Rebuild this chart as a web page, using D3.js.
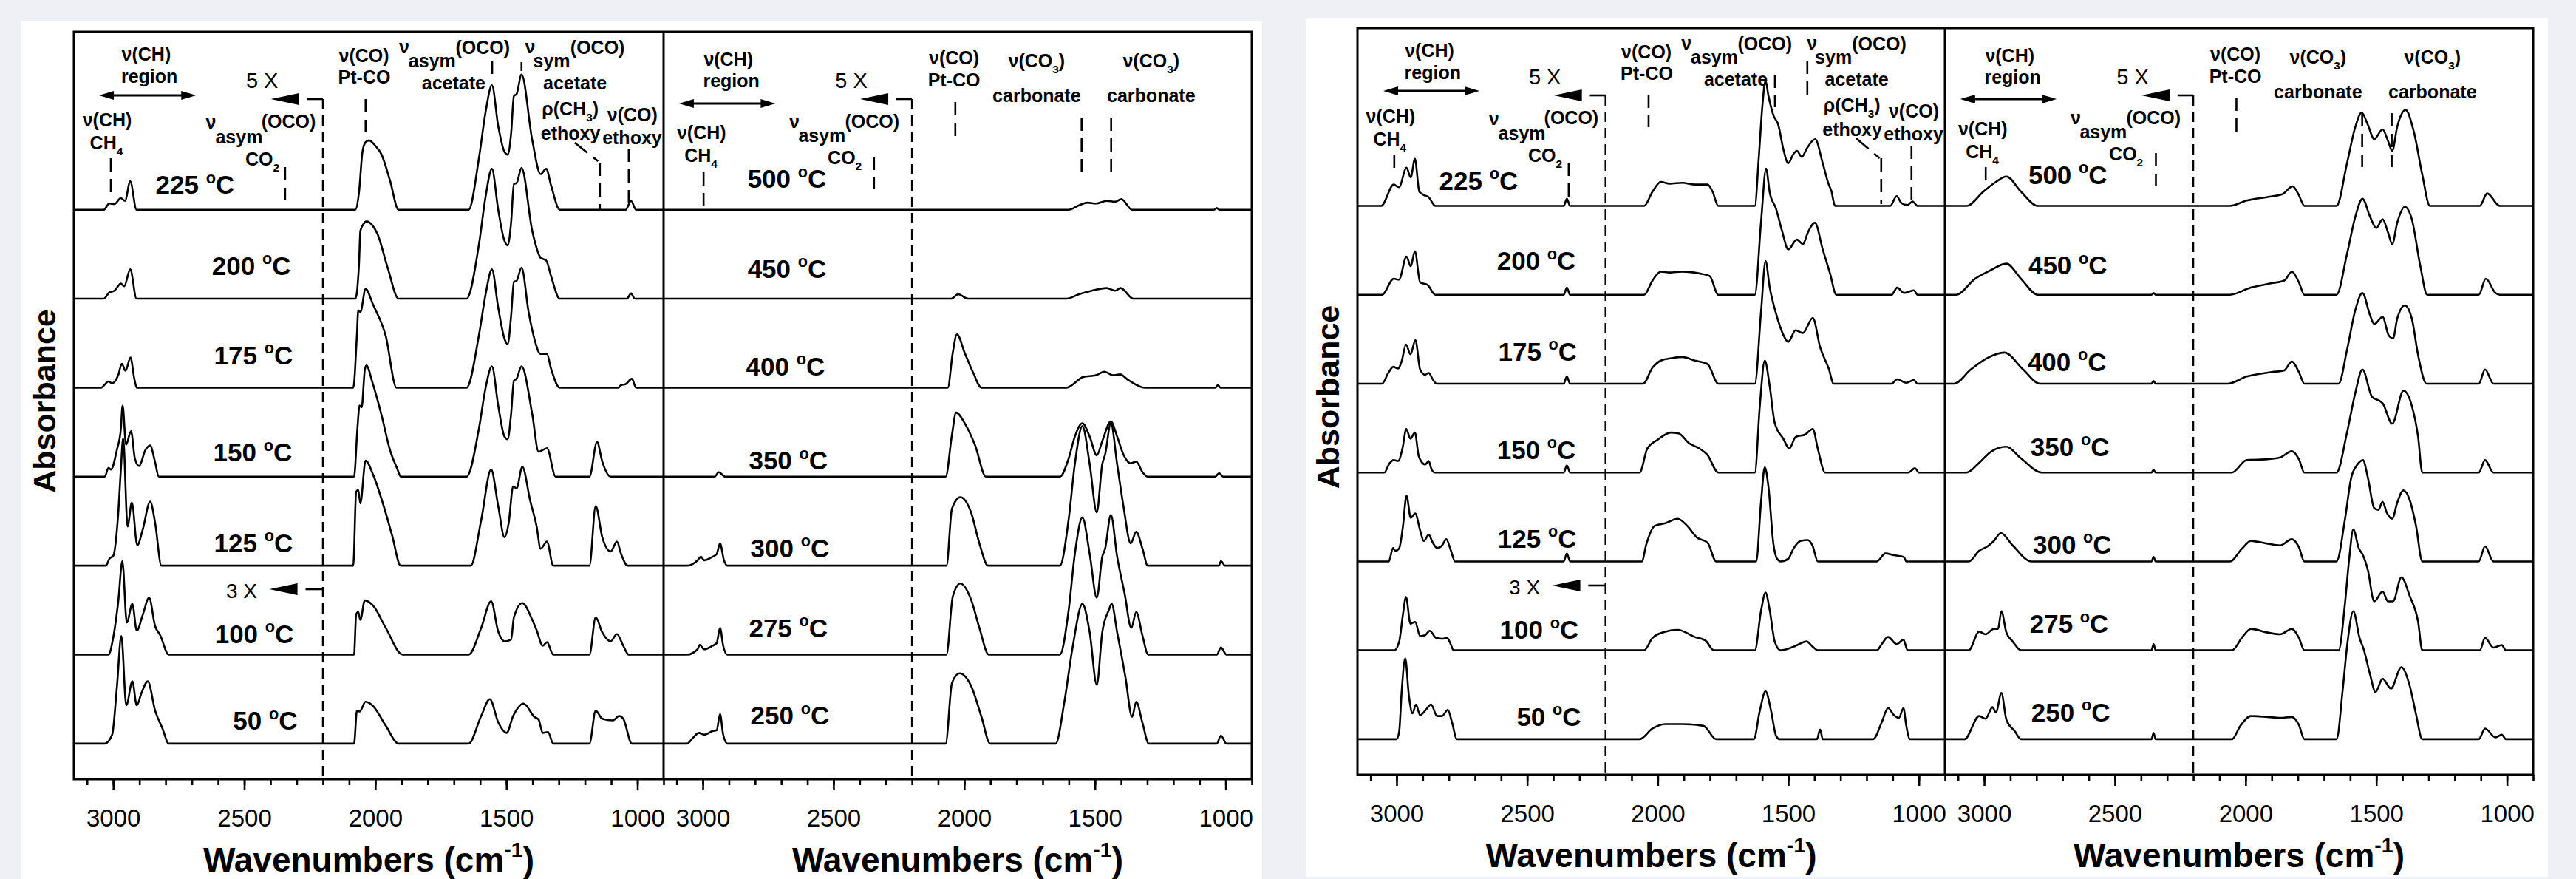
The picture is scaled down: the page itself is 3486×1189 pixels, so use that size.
<!DOCTYPE html>
<html>
<head>
<meta charset="utf-8">
<script src="https://d3js.org/d3.v7.min.js"></script>
<style>
  body { margin: 0; background: #eef0f5; }
  svg { display: block; }
  text { font-family: "Liberation Sans", Arial, sans-serif; fill: #000; }
</style>
</head>
<body>
<svg id="chart"></svg>
<script>
// ---- data -------------------------------------------------------------
var tempsLow = ['225', '200', '175', '150', '125', '100', '50'];
var tempsHigh = ['500', '450', '400', '350', '300', '275', '250'];
var majorTicks = [3000, 2500, 2000, 1500, 1000];
var minorTicks = d3.range(900, 3101, 100);

// spectra, [wavenumber, absorbance offset units]
// left figure, 50-225 C
var aLow225 = [[3150,0],[3036,0],[3015,0.07],[2995,0.065],[2971,0.13],[2955,0.1],[2935,0.32],[2911,0],[2076,0],[2062,0.2],[2049,0.65],[2037,0.76],[2024,0.78],[2000,0.72],[1976,0.62],[1944,0.33],[1911,0],[1644,0],[1604,0.59],[1579,1.1],[1555,1.4],[1531,0.94],[1507,0.65],[1495,0.62],[1482,0.85],[1471,1.28],[1461,1.3],[1442,1.52],[1401,0.78],[1369,0.4],[1348,0.46],[1329,0.27],[1296,0],[1045,0],[1024,0.1],[1005,0],[900,0]];
var aLow200 = [[3150,0],[3036,0],[3015,0.07],[2995,0.09],[2971,0.17],[2958,0.14],[2935,0.33],[2911,0],[2076,0],[2062,0.4],[2057,0.76],[2045,0.84],[2032,0.87],[2010,0.82],[1992,0.73],[1952,0.34],[1911,0],[1652,0],[1604,0.62],[1579,1.15],[1555,1.46],[1531,1.0],[1507,0.65],[1495,0.6],[1482,0.85],[1471,1.29],[1461,1.3],[1442,1.47],[1401,0.76],[1369,0.46],[1348,0.43],[1329,0.25],[1296,0],[1040,0],[1024,0.06],[1010,0],[900,0]];
var aLow175 = [[3150,0],[3047,0],[3018,0.07],[3004,0.05],[2981,0.14],[2967,0.27],[2953,0.19],[2934,0.34],[2920,0.11],[2910,0],[2084,0],[2070,0.6],[2065,0.87],[2057,0.85],[2037,1.11],[2008,0.93],[1960,0.58],[1919,0],[1652,0],[1604,0.6],[1579,1.05],[1555,1.33],[1531,0.9],[1507,0.55],[1495,0.49],[1482,0.8],[1471,1.19],[1461,1.2],[1442,1.35],[1415,0.85],[1393,0.55],[1370,0.38],[1345,0.38],[1330,0.22],[1296,0],[1072,0],[1062,0.03],[1045,0.04],[1021,0.1],[1005,0],[900,0]];
var aLow150 = [[3150,0],[3032,0],[3018,0.1],[3009,0.08],[2986,0.3],[2971,0.53],[2964,0.8],[2951,0.36],[2932,0.51],[2917,0.2],[2901,0.12],[2877,0.3],[2859,0.35],[2840,0.16],[2826,0],[2081,0],[2068,0.55],[2060,0.8],[2052,0.78],[2040,1.2],[2034,1.25],[2010,1.05],[1976,0.69],[1944,0.3],[1915,0.08],[1903,0],[1652,0],[1604,0.55],[1579,1.0],[1555,1.24],[1531,0.8],[1507,0.45],[1495,0.42],[1482,0.7],[1471,1.08],[1461,1.1],[1442,1.24],[1401,0.7],[1377,0.28],[1345,0.32],[1312,0],[1183,0],[1154,0.39],[1134,0.17],[1102,0],[900,0]];
var aLow125 = [[3150,0],[3028,0],[3014,0.08],[3000,0.11],[2981,0.58],[2971,1.07],[2962,1.43],[2945,0.44],[2929,0.71],[2908,0.23],[2887,0.41],[2859,0.72],[2840,0.48],[2816,0],[2084,0],[2073,0.83],[2065,0.85],[2057,0.7],[2037,1.18],[2008,1.02],[1968,0.67],[1935,0.33],[1903,0],[1636,0],[1596,0.51],[1558,1.08],[1531,0.67],[1507,0.32],[1491,0.48],[1474,0.89],[1461,0.87],[1439,1.11],[1409,0.73],[1385,0.45],[1369,0.19],[1345,0.27],[1321,0],[1183,0],[1159,0.67],[1134,0.32],[1102,0.16],[1078,0.27],[1062,0.13],[1037,0],[900,0]];
var aLow100 = [[3150,0],[3018,0],[3000,0.19],[2981,0.59],[2965,1.05],[2948,0.36],[2927,0.57],[2910,0.27],[2887,0.45],[2863,0.64],[2840,0.32],[2821,0.22],[2788,0],[2081,0],[2073,0.45],[2065,0.48],[2057,0.39],[2040,0.61],[2008,0.55],[1960,0.3],[1895,0],[1644,0],[1596,0.3],[1558,0.6],[1531,0.26],[1507,0.15],[1482,0.17],[1471,0.42],[1439,0.58],[1401,0.39],[1385,0.28],[1361,0.1],[1345,0.14],[1321,0],[1183,0],[1159,0.42],[1134,0.25],[1102,0.15],[1078,0.23],[1054,0.1],[1033,0],[900,0]];
var aLow50 = [[3150,0],[3032,0],[3004,0.1],[2986,0.63],[2969,1.21],[2950,0.43],[2927,0.7],[2910,0.43],[2892,0.57],[2868,0.7],[2840,0.37],[2812,0.17],[2788,0],[2081,0],[2070,0.37],[2060,0.36],[2037,0.47],[2008,0.42],[1960,0.2],[1911,0],[1644,0],[1596,0.31],[1563,0.5],[1531,0.24],[1499,0.12],[1474,0.31],[1434,0.45],[1393,0.3],[1377,0.27],[1361,0.12],[1341,0.13],[1321,0],[1183,0],[1159,0.37],[1134,0.28],[1094,0.26],[1070,0.31],[1054,0.28],[1021,0],[900,0]];

// left figure, 250-500 C
var aHigh500 = [[3150,0],[1601,0],[1561,0.05],[1528,0.08],[1496,0.07],[1455,0.1],[1423,0.09],[1399,0.12],[1358,0],[1045,0],[1034,0.02],[1025,0],[900,0]];
var aHigh450 = [[3150,0],[2050,0],[2023,0.05],[1985,0],[1609,0],[1561,0.05],[1512,0.09],[1455,0.12],[1423,0.09],[1402,0.12],[1353,0],[900,0]];
var aHigh400 = [[3150,0],[2063,0],[2044,0.39],[2028,0.6],[1998,0.39],[1966,0.17],[1934,0],[1609,0],[1545,0.12],[1496,0.14],[1464,0.18],[1431,0.14],[1404,0.15],[1374,0.09],[1309,0],[1040,0],[1029,0.03],[1020,0],[900,0]];
var aHigh350 = [[3150,0],[2955,0],[2939,0.05],[2914,0],[2071,0],[2047,0.47],[2031,0.72],[1998,0.6],[1958,0.35],[1917,0],[1634,0],[1601,0.2],[1577,0.45],[1548,0.6],[1520,0.45],[1493,0.24],[1472,0.4],[1439,0.62],[1415,0.45],[1391,0.25],[1363,0.15],[1342,0.17],[1318,0.05],[1298,0],[1040,0],[1025,0.04],[1010,0],[900,0]];
var aHigh300 = [[3150,0],[3060,0],[3020,0.06],[3007,0.1],[2995,0.06],[2963,0.1],[2947,0.13],[2934,0.25],[2919,0.06],[2906,0],[2068,0],[2047,0.64],[2015,0.77],[1974,0.6],[1942,0.25],[1909,0],[1634,0],[1601,0.51],[1577,1.14],[1548,1.57],[1520,1.14],[1493,0.6],[1472,1.14],[1461,1.25],[1439,1.6],[1415,1.14],[1391,0.67],[1363,0.25],[1342,0.38],[1318,0.19],[1298,0],[1026,0],[1018,0.05],[1002,0],[900,0]];
var aHigh275 = [[3150,0],[3060,0],[3020,0.06],[3012,0.11],[2995,0.06],[2963,0.1],[2947,0.13],[2934,0.3],[2922,0.1],[2906,0],[2068,0],[2044,0.65],[2015,0.8],[1974,0.62],[1942,0.3],[1906,0],[1634,0],[1601,0.49],[1577,1.13],[1548,1.54],[1520,1.13],[1493,0.64],[1472,1.1],[1461,1.19],[1439,1.57],[1415,1.1],[1386,0.68],[1361,0.3],[1342,0.48],[1318,0.21],[1296,0],[1034,0],[1018,0.08],[997,0],[900,0]];
var aHigh250 = [[3150,0],[3060,0],[3036,0.07],[3015,0.12],[2995,0.1],[2963,0.14],[2947,0.15],[2934,0.33],[2922,0.1],[2906,0],[2071,0],[2047,0.68],[2018,0.79],[1974,0.65],[1934,0.3],[1901,0],[1650,0],[1618,0.45],[1585,1.09],[1548,1.57],[1520,1.25],[1493,0.66],[1472,1.25],[1447,1.5],[1436,1.57],[1415,1.25],[1383,0.74],[1358,0.3],[1342,0.47],[1318,0.23],[1294,0],[1034,0],[1018,0.09],[997,0],[900,0]];

// right figure, 50-225 C
var bLow225 = [[3150,0],[3059,0],[3011,0.24],[2991,0.21],[2962,0.43],[2946,0.32],[2930,0.53],[2913,0.16],[2894,0.12],[2878,0.1],[2852,0],[2360,0],[2348,0.08],[2336,0],[2052,0],[2020,0.16],[1988,0.27],[1955,0.25],[1906,0.26],[1858,0.24],[1809,0.24],[1790,0.16],[1768,0],[1628,0],[1613,0.54],[1599,1.13],[1587,1.41],[1576,1.24],[1557,1.02],[1538,0.91],[1519,0.64],[1500,0.48],[1481,0.58],[1467,0.62],[1448,0.55],[1430,0.64],[1397,0.75],[1368,0.48],[1345,0.24],[1335,0.17],[1321,0],[1109,0],[1085,0.11],[1066,0.03],[1043,0.01],[1024,0.05],[1005,0],[900,0]];
var bLow200 = [[3150,0],[3056,0],[3011,0.18],[2991,0.17],[2962,0.43],[2946,0.32],[2930,0.49],[2910,0.14],[2881,0.11],[2852,0],[2360,0],[2348,0.08],[2336,0],[2052,0],[2020,0.16],[1988,0.26],[1955,0.25],[1906,0.26],[1841,0.24],[1801,0.21],[1768,0],[1628,0],[1604,0.83],[1585,1.42],[1571,1.15],[1547,0.97],[1524,0.72],[1500,0.51],[1467,0.62],[1444,0.57],[1425,0.7],[1398,0.81],[1368,0.51],[1340,0.24],[1316,0],[1104,0],[1083,0.08],[1057,0.02],[1019,0.05],[1005,0],[900,0]];
var bLow175 = [[3150,0],[3056,0],[3032,0.12],[3013,0.19],[2994,0.17],[2980,0.26],[2964,0.44],[2947,0.33],[2928,0.49],[2910,0.16],[2891,0.1],[2877,0.12],[2862,0.05],[2847,0],[2360,0],[2348,0.08],[2336,0],[2056,0],[2020,0.18],[1988,0.26],[1939,0.29],[1906,0.3],[1858,0.26],[1809,0.22],[1768,0],[1628,0],[1604,0.82],[1587,1.38],[1571,1.08],[1547,0.79],[1519,0.55],[1500,0.47],[1472,0.6],[1444,0.57],[1406,0.74],[1378,0.41],[1345,0.17],[1326,0],[1104,0],[1083,0.05],[1048,0.01],[1019,0.04],[1005,0],[900,0]];
var bLow150 = [[3150,0],[3047,0],[3028,0.1],[3011,0.14],[2994,0.13],[2977,0.28],[2963,0.49],[2947,0.38],[2930,0.45],[2915,0.18],[2891,0.09],[2877,0.13],[2868,0.05],[2854,0],[2360,0],[2348,0.08],[2336,0],[2069,0],[2040,0.27],[2000,0.37],[1950,0.45],[1920,0.44],[1880,0.33],[1840,0.27],[1810,0.2],[1768,0],[1628,0],[1609,0.75],[1590,1.26],[1571,0.97],[1552,0.56],[1519,0.38],[1496,0.27],[1472,0.4],[1434,0.43],[1406,0.49],[1387,0.27],[1359,0],[1040,0],[1029,0.02],[1015,0.05],[1000,0],[900,0]];
var bLow125 = [[3150,0],[3030,0],[3014,0.15],[3004,0.12],[2990,0.15],[2976,0.39],[2962,0.74],[2946,0.49],[2929,0.54],[2910,0.35],[2896,0.23],[2877,0.3],[2863,0.22],[2845,0.15],[2826,0.18],[2810,0.25],[2793,0.13],[2776,0],[2360,0],[2348,0.09],[2336,0],[2061,0],[2044,0.19],[2012,0.4],[1971,0.43],[1923,0.48],[1890,0.41],[1850,0.27],[1809,0.21],[1776,0],[1623,0],[1604,0.68],[1590,1.06],[1576,0.84],[1557,0.2],[1543,0.03],[1529,0],[1500,0.03],[1481,0.14],[1453,0.23],[1425,0.24],[1406,0.17],[1387,0],[1161,0],[1128,0.09],[1095,0.07],[1057,0.05],[1048,0],[900,0]];
var bLow100 = [[3150,0],[3009,0],[2990,0.1],[2976,0.4],[2964,0.6],[2947,0.3],[2929,0.32],[2910,0.16],[2891,0.17],[2873,0.22],[2849,0.14],[2826,0.13],[2807,0.14],[2793,0.07],[2782,0],[2052,0],[2020,0.14],[1971,0.21],[1923,0.23],[1858,0.15],[1817,0.11],[1785,0],[1628,0],[1604,0.45],[1587,0.65],[1571,0.45],[1552,0.1],[1529,0],[1481,0.04],[1458,0.07],[1430,0.1],[1406,0.04],[1387,0],[1161,0],[1142,0.07],[1118,0.15],[1085,0.07],[1059,0.12],[1043,0],[900,0]];
var bLow50 = [[3150,0],[3000,0],[2990,0.09],[2981,0.52],[2967,0.91],[2953,0.49],[2939,0.29],[2926,0.39],[2910,0.27],[2891,0.32],[2868,0.39],[2845,0.26],[2826,0.26],[2804,0.33],[2788,0.19],[2769,0],[2069,0],[2020,0.12],[1971,0.17],[1906,0.17],[1825,0.15],[1776,0],[1632,0],[1609,0.32],[1587,0.54],[1566,0.32],[1547,0.04],[1533,0],[1390,0],[1378,0.11],[1368,0],[1175,0],[1142,0.19],[1118,0.35],[1095,0.27],[1076,0.24],[1059,0.35],[1048,0.15],[1034,0],[900,0]];

// right figure, 250-500 C
var bHigh500 = [[3150,0],[3067,0],[3003,0.16],[2955,0.27],[2915,0.33],[2859,0.16],[2795,0],[2060,0],[1996,0.06],[1916,0.1],[1860,0.13],[1820,0.22],[1796,0.12],[1775,0],[1652,0],[1612,0.48],[1580,0.89],[1556,1.05],[1532,0.91],[1508,0.75],[1476,0.86],[1455,0.73],[1439,0.62],[1420,0.89],[1388,1.08],[1356,0.83],[1324,0.35],[1295,0],[1104,0],[1076,0.14],[1028,0],[900,0]];
var bHigh450 = [[3150,0],[3107,0],[3035,0.18],[2979,0.27],[2915,0.35],[2859,0.18],[2795,0],[2360,0],[2352,0.02],[2344,0],[2060,0],[1980,0.08],[1900,0.13],[1852,0.16],[1823,0.26],[1796,0.14],[1775,0],[1652,0],[1612,0.46],[1580,0.88],[1553,1.08],[1524,0.88],[1500,0.75],[1476,0.85],[1455,0.7],[1439,0.57],[1420,0.81],[1391,0.99],[1364,0.85],[1332,0.33],[1305,0],[1108,0],[1081,0.18],[1044,0.02],[1028,0],[900,0]];
var bHigh400 = [[3150,0],[3115,0],[3051,0.16],[2987,0.29],[2923,0.35],[2851,0.16],[2787,0],[2360,0],[2352,0.03],[2344,0],[2068,0],[1996,0.08],[1900,0.13],[1852,0.15],[1823,0.25],[1796,0.13],[1775,0],[1644,0],[1612,0.38],[1580,0.83],[1553,1.02],[1524,0.77],[1508,0.67],[1476,0.75],[1452,0.54],[1436,0.51],[1420,0.73],[1391,0.88],[1364,0.73],[1340,0.32],[1308,0],[1108,0],[1084,0.16],[1052,0],[900,0]];
var bHigh350 = [[3150,0],[3067,0],[3019,0.11],[2971,0.24],[2915,0.29],[2859,0.16],[2779,0],[2360,0],[2352,0.03],[2344,0],[2052,0],[1996,0.14],[1916,0.15],[1868,0.17],[1823,0.24],[1796,0.15],[1775,0],[1652,0],[1612,0.45],[1580,0.9],[1553,1.16],[1516,0.85],[1484,0.8],[1476,0.78],[1439,0.55],[1396,0.92],[1364,0.75],[1340,0.4],[1324,0],[1108,0],[1084,0.14],[1052,0],[900,0]];
var bHigh300 = [[3150,0],[3059,0],[3019,0.12],[2987,0.17],[2963,0.23],[2936,0.32],[2891,0.18],[2819,0],[2360,0],[2352,0.05],[2344,0],[2060,0],[2012,0.15],[1980,0.23],[1916,0.2],[1868,0.18],[1823,0.25],[1796,0.16],[1775,0],[1652,0],[1620,0.47],[1596,0.94],[1572,1.09],[1551,1.14],[1532,0.94],[1508,0.6],[1492,0.58],[1476,0.67],[1460,0.55],[1439,0.48],[1420,0.66],[1396,0.8],[1372,0.69],[1348,0.4],[1324,0],[1108,0],[1084,0.17],[1052,0],[900,0]];
var bHigh275 = [[3150,0],[3059,0],[3019,0.21],[2995,0.18],[2963,0.24],[2947,0.24],[2934,0.44],[2915,0.2],[2891,0.1],[2859,0],[2360,0],[2352,0.07],[2344,0],[2052,0],[2012,0.15],[1980,0.24],[1916,0.2],[1868,0.18],[1823,0.24],[1796,0.14],[1775,0],[1644,0],[1620,0.52],[1604,1.02],[1588,1.36],[1567,1.15],[1551,1.07],[1532,0.9],[1508,0.55],[1476,0.66],[1455,0.55],[1436,0.55],[1404,0.82],[1372,0.61],[1340,0.32],[1324,0],[1104,0],[1084,0.14],[1052,0.03],[1020,0.06],[1004,0],[900,0]];
var bHigh250 = [[3150,0],[3075,0],[3019,0.26],[2995,0.23],[2968,0.36],[2955,0.3],[2934,0.52],[2915,0.22],[2883,0.09],[2859,0],[2360,0],[2352,0.07],[2344,0],[2052,0],[2020,0.15],[1980,0.26],[1916,0.25],[1868,0.24],[1823,0.25],[1796,0.16],[1775,0],[1652,0],[1628,0.57],[1612,1.04],[1588,1.44],[1564,1.14],[1548,1.01],[1524,0.73],[1503,0.53],[1476,0.68],[1444,0.57],[1404,0.81],[1372,0.6],[1348,0.28],[1324,0],[1108,0],[1084,0.12],[1044,0.02],[1020,0.05],[1004,0],[900,0]];

var aLow = [aLow225, aLow200, aLow175, aLow150, aLow125, aLow100, aLow50];
var aHigh = [aHigh500, aHigh450, aHigh400, aHigh350, aHigh300, aHigh275, aHigh250];
var bLow = [bLow225, bLow200, bLow175, bLow150, bLow125, bLow100, bLow50];
var bHigh = [bHigh500, bHigh450, bHigh400, bHigh350, bHigh300, bHigh275, bHigh250];

// ---- layout (annotations) ---------------------------------------------
// temperature label: wavenumber of centre, px above its baseline
var aLowLabX = [2688, 2473, 2465, 2468, 2465, 2462, 2420], aLowLabUp = [34, 45, 44, 33, 31, 28, 31];
var aHighLabX = [2678, 2678, 2684, 2673, 2667, 2673, 2667], aHighLabUp = [42, 41, 29, 22, 24, 36, 38];
var bLowLabX = [2686, 2465, 2460, 2465, 2462, 2454, 2417], bLowLabUp = [34, 46, 44, 31, 31, 28, 31];
var bHighLabX = [2680, 2680, 2683, 2672, 2663, 2675, 2669], bHighLabUp = [42, 40, 30, 35, 23, 36, 37];

// band labels: text, wavenumber, px below frame top
var annotLow = [
  ['ν(CH)', 2874, 30], ['region', 2862, 60], ['ν(CH)', 3023, 119], ['CH{_4}', 3026, 150],
  ['ν', 2627, 122], ['asym', 2520, 142], ['(OCO)', 2331, 121], ['CO{_2}', 2431, 172],
  ['ν(CO)', 2043, 32], ['Pt-CO', 2042, 61],
  ['ν', 1890, 20], ['asym', 1783, 39], ['(OCO)', 1590, 21], ['acetate', 1701, 69],
  ['ν', 1409, 20], ['sym', 1327, 39], ['(OCO)', 1152, 21], ['acetate', 1238, 69],
  ['ρ(CH{_3})', 1256, 104], ['ethoxy', 1255, 137], ['ν(CO)', 1019, 112], ['ethoxy', 1020, 143]
];
var annotHigh = [
  ['ν(CH)', 2902, 37], ['region', 2891, 66], ['ν(CH)', 3005, 136], ['CH{_4}', 3007, 167],
  ['ν', 2650, 121], ['asym', 2544, 140], ['(OCO)', 2352, 121], ['CO{_2}', 2457, 170],
  ['ν(CO)', 2039, 35], ['Pt-CO', 2039, 65],
  ['ν(CO{_3})', 1723, 39], ['carbonate', 1723, 86], ['ν(CO{_3})', 1285, 39], ['carbonate', 1285, 86]
];
// band marker lines: wavenumber, y from, y to (px below frame top)
var aLowMarks = [[3009, 171, 221], [2344, 183, 227], [2037, 91, 135], [1554, 39, 58], [1442, 41, 53], [1033, 158, 240], [1143, 177, 240]];
var bLowMarks = [[3009, 171, 190], [2341, 182, 237], [2035, 90, 134], [1551, 63, 107], [1427, 44, 90], [1028, 159, 238], [1144, 176, 238]];
var aHighMarks = [[2997, 190, 236], [2345, 169, 213], [2034, 95, 141], [1551, 116, 189], [1438, 116, 189]];
var bHighMarks = [[2994, 188, 207], [2343, 169, 213], [2035, 94, 140], [1554, 115, 188], [1441, 115, 188]];

var figures = [
  { bg: [29, 29, 1708, 1189], left: 100, mid: 898, right: 1694, top: 43, bottom: 1054,
    panels: [
      { spectra: aLow, temps: tempsLow, labX: aLowLabX, labUp: aLowLabUp, annot: annotLow, marks: aLowMarks, chArrow: [3054, 2684, 86], rho: [1239, 150, 1150, 175], threeX: true },
      { spectra: aHigh, temps: tempsHigh, labX: aHighLabX, labUp: aHighLabUp, annot: annotHigh, marks: aHighMarks, chArrow: [3091, 2722, 97] }
    ] },
  { bg: [1767, 25, 3448, 1186], left: 1837, mid: 2632, right: 3428, top: 38, bottom: 1048,
    panels: [
      { spectra: bLow, temps: tempsLow, labX: bLowLabX, labUp: bLowLabUp, annot: annotLow, marks: bLowMarks, chArrow: [3051, 2683, 85], rho: [1240, 149, 1150, 176], threeX: true },
      { spectra: bHigh, temps: tempsHigh, labX: bHighLabX, labUp: bHighLabUp, annot: annotHigh, marks: bHighMarks, chArrow: [3091, 2723, 96] }
    ] }
];

// ---- drawing ----------------------------------------------------------
var svg = d3.select('#chart').attr('width', 3486).attr('height', 1189);
svg.append('rect').attr('width', 3486).attr('height', 1189).attr('fill', '#eef0f5');

// text with {_sub} and {^sup} parts, centred on x,y
function richText(g, str, x, y, size, weight) {
  var t = g.append('text')
    .attr('x', x).attr('y', y + size * 0.36)
    .attr('text-anchor', 'middle')
    .style('font-size', size + 'px')
    .style('font-weight', weight || 'bold');
  var pending = 0;
  str.split(/(\{[_^][^}]*\})/).forEach(function (p) {
    if (!p) return;
    var m = p.match(/^\{([_^])(.*)\}$/);
    if (m) {
      var sh = m[1] === '_' ? size * 0.3 : -size * 0.42;
      t.append('tspan').attr('dy', sh + pending).style('font-size', (size * 0.62) + 'px').text(m[2]);
      pending = -sh;
    } else {
      t.append('tspan').attr('dy', pending).text(p);
      pending = 0;
    }
  });
  return t;
}

function leftTriangle(g, tipX, y, len, half) {
  g.append('path')
    .attr('d', 'M' + tipX + ',' + y + 'L' + (tipX + len) + ',' + (y - half) + 'L' + (tipX + len) + ',' + (y + half) + 'Z')
    .attr('fill', '#000');
}

var y = d3.scaleLinear().domain([-0.4, 8.0]);

figures.forEach(function (f) {
  svg.append('rect')
    .attr('x', f.bg[0]).attr('y', f.bg[1])
    .attr('width', f.bg[2] - f.bg[0]).attr('height', f.bg[3] - f.bg[1])
    .attr('fill', '#ffffff');

  y.range([f.bottom, f.top]);
  var g = svg.append('g');

  f.panels.forEach(function (p, pi) {
    var x0 = pi === 0 ? f.left : f.mid,
        x1 = pi === 0 ? f.mid : f.right;
    var x = d3.scaleLinear().domain([3150, 900]).range([x0, x1]);

    // spectra
    p.spectra.forEach(function (s, i) {
      var off = 6 - i;
      var line = d3.line()
        .x(function (d) { return x(d[0]); })
        .y(function (d) { return y(d[1] + off); })
        .curve(d3.curveMonotoneX);
      g.append('path').datum(s)
        .attr('d', line)
        .attr('fill', 'none')
        .attr('stroke', '#000')
        .attr('stroke-width', 2.6)
        .attr('stroke-linejoin', 'round');

      richText(g, p.temps[i] + ' {^o}C', x(p.labX[i]), y(off) - p.labUp[i], 35, 'bold');
    });

    // axes
    var minor = g.append('g').attr('transform', 'translate(0,' + f.bottom + ')')
      .call(d3.axisBottom(x).tickValues(minorTicks).tickSize(8).tickFormat(''));
    var major = g.append('g').attr('transform', 'translate(0,' + f.bottom + ')')
      .call(d3.axisBottom(x).tickValues(majorTicks).tickSize(15).tickPadding(26).tickFormat(d3.format('d')));
    [minor, major].forEach(function (a) {
      a.select('.domain').remove();
      a.selectAll('line').attr('stroke', '#000').attr('stroke-width', 2.6);
      a.attr('font-family', null).attr('font-size', null);
      a.selectAll('text').style('font-size', '33px').style('font-family', '"Liberation Sans", Arial, sans-serif');
    });

    richText(g, 'Wavenumbers (cm{^-1})', (x0 + x1) / 2, f.bottom + 108, 46, 'bold');

    // band labels
    p.annot.forEach(function (a) {
      richText(g, a[0], x(a[1]), f.top + a[2], 25, 'bold');
    });
    p.marks.forEach(function (m) {
      g.append('line')
        .attr('x1', x(m[0])).attr('x2', x(m[0]))
        .attr('y1', f.top + m[1]).attr('y2', f.top + m[2])
        .attr('stroke', '#000').attr('stroke-width', 2.6)
        .attr('stroke-dasharray', '18,10');
    });
    if (p.rho) {
      g.append('line')
        .attr('x1', x(p.rho[0])).attr('y1', f.top + p.rho[1])
        .attr('x2', x(p.rho[2])).attr('y2', f.top + p.rho[3])
        .attr('stroke', '#000').attr('stroke-width', 2.6)
        .attr('stroke-dasharray', '22,10');
    }

    // nu(CH) region double arrow
    var ca = p.chArrow, ay = f.top + ca[2];
    g.append('line').attr('x1', x(ca[0]) + 10).attr('x2', x(ca[1]) - 10)
      .attr('y1', ay).attr('y2', ay).attr('stroke', '#000').attr('stroke-width', 3);
    leftTriangle(g, x(ca[0]), ay, 20, 6);
    g.append('path')
      .attr('d', 'M' + x(ca[1]) + ',' + ay + 'L' + (x(ca[1]) - 20) + ',' + (ay - 6) + 'L' + (x(ca[1]) - 20) + ',' + (ay + 6) + 'Z')
      .attr('fill', '#000');

    // 5 X scale marker and the dashed 2200 cm-1 divide
    var xd = x(2200), sy = f.top + 91;
    g.append('line').attr('x1', xd).attr('x2', xd).attr('y1', sy).attr('y2', f.bottom)
      .attr('stroke', '#000').attr('stroke-width', 2.4).attr('stroke-dasharray', '14,8');
    leftTriangle(g, x(2398), sy, 38, 8);
    g.append('line').attr('x1', x(2260)).attr('x2', xd).attr('y1', sy).attr('y2', sy)
      .attr('stroke', '#000').attr('stroke-width', 2.6);
    richText(g, '5 X', x(2432), f.top + 66, 29, 'normal');

    if (p.threeX) {
      var ty = f.top + 754;
      leftTriangle(g, x(2404), ty, 38, 8);
      g.append('line').attr('x1', x(2266)).attr('x2', xd).attr('y1', ty).attr('y2', ty)
        .attr('stroke', '#000').attr('stroke-width', 2.6);
      richText(g, '3 X', x(2510), ty + 2, 28, 'normal');
    }
  });

  // frame
  g.append('rect')
    .attr('x', f.left).attr('y', f.top)
    .attr('width', f.right - f.left).attr('height', f.bottom - f.top)
    .attr('fill', 'none').attr('stroke', '#000').attr('stroke-width', 3);
  g.append('line').attr('x1', f.mid).attr('x2', f.mid).attr('y1', f.top).attr('y2', f.bottom)
    .attr('stroke', '#000').attr('stroke-width', 3);

  g.append('text')
    .attr('transform', 'translate(' + (f.left - 40) + ',' + ((f.top + f.bottom) / 2 - 6) + ') rotate(-90)')
    .attr('text-anchor', 'middle')
    .attr('dy', '0.36em')
    .style('font-size', '43px')
    .style('font-weight', 'bold')
    .text('Absorbance');
});
</script>
</body>
</html>
